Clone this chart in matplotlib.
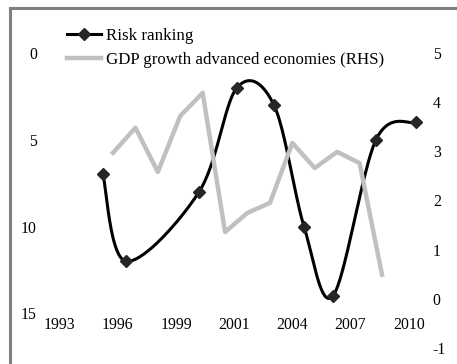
import numpy as np
import matplotlib.pyplot as plt
from matplotlib.lines import Line2D
from matplotlib.patches import Rectangle

plt.rcParams['font.family'] = ['Liberation Serif', 'DejaVu Serif']
plt.rcParams['axes.unicode_minus'] = False

# data
risk_years = [1995.55, 1996.58, 1999.84, 2001.53, 2003.18, 2004.52, 2005.81, 2007.73, 2009.51]
risk_rank = [7, 12, 8, 2, 3, 10, 14, 5, 4]
gdp_years = [1996, 1997, 1998, 1999, 2000, 2001, 2002, 2003, 2004, 2005, 2006, 2007, 2008]
gdp_growth = [2.97, 3.48, 2.58, 3.72, 4.19, 1.36, 1.75, 1.95, 3.17, 2.66, 2.99, 2.76, 0.49]
xtick_labels = ['1993', '1996', '1999', '2001', '2004', '2007', '2010']
left_ticks = [0, 5, 10, 15]
right_ticks = [-1, 0, 1, 2, 3, 4, 5]


def smooth(x, y, n=40):
    # excel-like smoothed line (catmull-rom as bezier)
    x = np.asarray(x, float)
    y = np.asarray(y, float)
    px = np.r_[x[0], x, x[-1]]
    py = np.r_[y[0], y, y[-1]]
    t = np.linspace(0, 1, n)
    xs, ys = [], []
    for i in range(1, len(px) - 2):
        p0 = np.array([px[i - 1], py[i - 1]])
        p1 = np.array([px[i], py[i]])
        p2 = np.array([px[i + 1], py[i + 1]])
        p3 = np.array([px[i + 2], py[i + 2]])
        c1 = p1 + (p2 - p0) / 6
        c2 = p2 - (p3 - p1) / 6
        b = ((1 - t) ** 3)[:, None] * p1 + (3 * (1 - t) ** 2 * t)[:, None] * c1 \
            + (3 * (1 - t) * t ** 2)[:, None] * c2 + (t ** 3)[:, None] * p2
        xs.extend(b[:, 0])
        ys.extend(b[:, 1])
    return np.array(xs), np.array(ys)


W, H = 457, 364
fig = plt.figure(figsize=(W / 100, H / 100), dpi=100)
fig.patches.append(Rectangle((9.5 / W, -0.1), 1.2, 1.1 - 8 / H, transform=fig.transFigure,
                             fill=False, edgecolor='#808080', linewidth=2.2))

ax = fig.add_axes([50 / W, 1 - 348 / H, 380 / W, 295 / H])
ax.set_xlim(1993.19, 2010.14)
ax.set_ylim(17, 0)
for s in ax.spines.values():
    s.set_visible(False)
ax.spines['bottom'].set_position(('data', 15))

tick_start, tick_step = 1993.62, 2.595
ax.set_xticks([tick_start + i * tick_step for i in range(len(xtick_labels))])
ax.set_xticklabels(xtick_labels)
ax.set_yticks(left_ticks)
ax.tick_params(axis='both', length=0, labelsize=11.3)
ax.tick_params(axis='x', pad=3)
ax.tick_params(axis='y', pad=9.5)

sx, sy = smooth(risk_years, risk_rank)
ax.plot(sx, sy, color='black', linewidth=2.2, solid_capstyle='round')
ax.plot(risk_years, risk_rank, linestyle='none', marker='D', markersize=6.5,
        color='#262626', clip_on=False)

ax2 = ax.twinx()
ax2.set_ylim(-1, 5)
for s in ax2.spines.values():
    s.set_visible(False)
ax2.set_yticks(right_ticks)
ax2.tick_params(axis='y', length=0, labelsize=11.3, pad=2)
ax2.plot(gdp_years, gdp_growth, color='#c0c0c0', linewidth=3.2)

handles = [Line2D([], [], color='black', linewidth=2.2, marker='D', markersize=6.5,
                  markerfacecolor='#262626', markeredgecolor='#262626'),
           Line2D([], [], color='#c0c0c0', linewidth=3.2)]
ax2.legend(handles, ['Risk ranking', 'GDP growth advanced economies (RHS)'],
           loc='upper left', bbox_to_anchor=(67 / W, 1 - 28 / H), bbox_transform=fig.transFigure,
           frameon=False, fontsize=12.2, borderpad=0, borderaxespad=0,
           handlelength=2.0, handletextpad=0.3, labelspacing=0.45)

fig.savefig('out.png', dpi=100)
